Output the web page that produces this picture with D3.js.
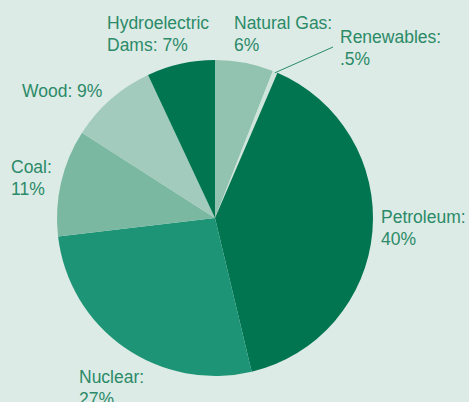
<!DOCTYPE html>
<html><head><meta charset="utf-8">
<script src="https://cdn.jsdelivr.net/npm/d3@7"></script>
<style>
html,body{margin:0;padding:0;background:#dcebe5;}
svg{display:block;}
text{font-family:"Liberation Sans",Arial,sans-serif;font-size:17.5px;fill:#2b8a68;}
</style></head><body>
<svg id="c" width="469" height="402"></svg>
<script>
const categories = ["Natural Gas","Renewables","Petroleum","Nuclear","Coal","Wood","Hydroelectric Dams"];
const values = [6, 0.5, 40, 27, 11, 9, 7];
const labelLines = [["Natural Gas:","6%"],["Renewables:",".5%"],["Petroleum:","40%"],["Nuclear:","27%"],["Coal:","11%"],["Wood: 9%"],["Hydroelectric","Dams: 7%"]];
const colors = ["#92c2b0","#cfe4da","#007550","#1e9476","#7ab8a2","#a3cbbd","#007550"];
const labelPos = [[234,29],[340,43],[381,223],[79,383],[11,173],[22,97],[107,29]];

const svg = d3.select("#c");
const cx = 215, cy = 218, r = 158;
const pie = d3.pie().sort(null).value(d => d)(values);
const arc = d3.arc().innerRadius(0).outerRadius(r);
const g = svg.append("g").attr("transform", `translate(${cx},${cy})`);
g.selectAll("path").data(pie).join("path")
  .attr("d", arc)
  .attr("fill", (d,i) => colors[i]);

// leader line for Renewables
const ren = pie[1];
const mid = (ren.startAngle + ren.endAngle)/2;
const p0 = [cx + Math.sin(mid)*(r-1), cy - Math.cos(mid)*(r-1)];
svg.append("line").attr("x1", p0[0]).attr("y1", p0[1]).attr("x2", 333).attr("y2", 47)
  .attr("stroke", "#2b8a68").attr("stroke-width", 1);

labelLines.forEach((lines, i) => {
  const t = svg.append("text").attr("x", labelPos[i][0]).attr("y", labelPos[i][1]);
  lines.forEach((s, j) => t.append("tspan").attr("x", labelPos[i][0]).attr("dy", j ? 22 : 0).text(s));
});
</script></body></html>
